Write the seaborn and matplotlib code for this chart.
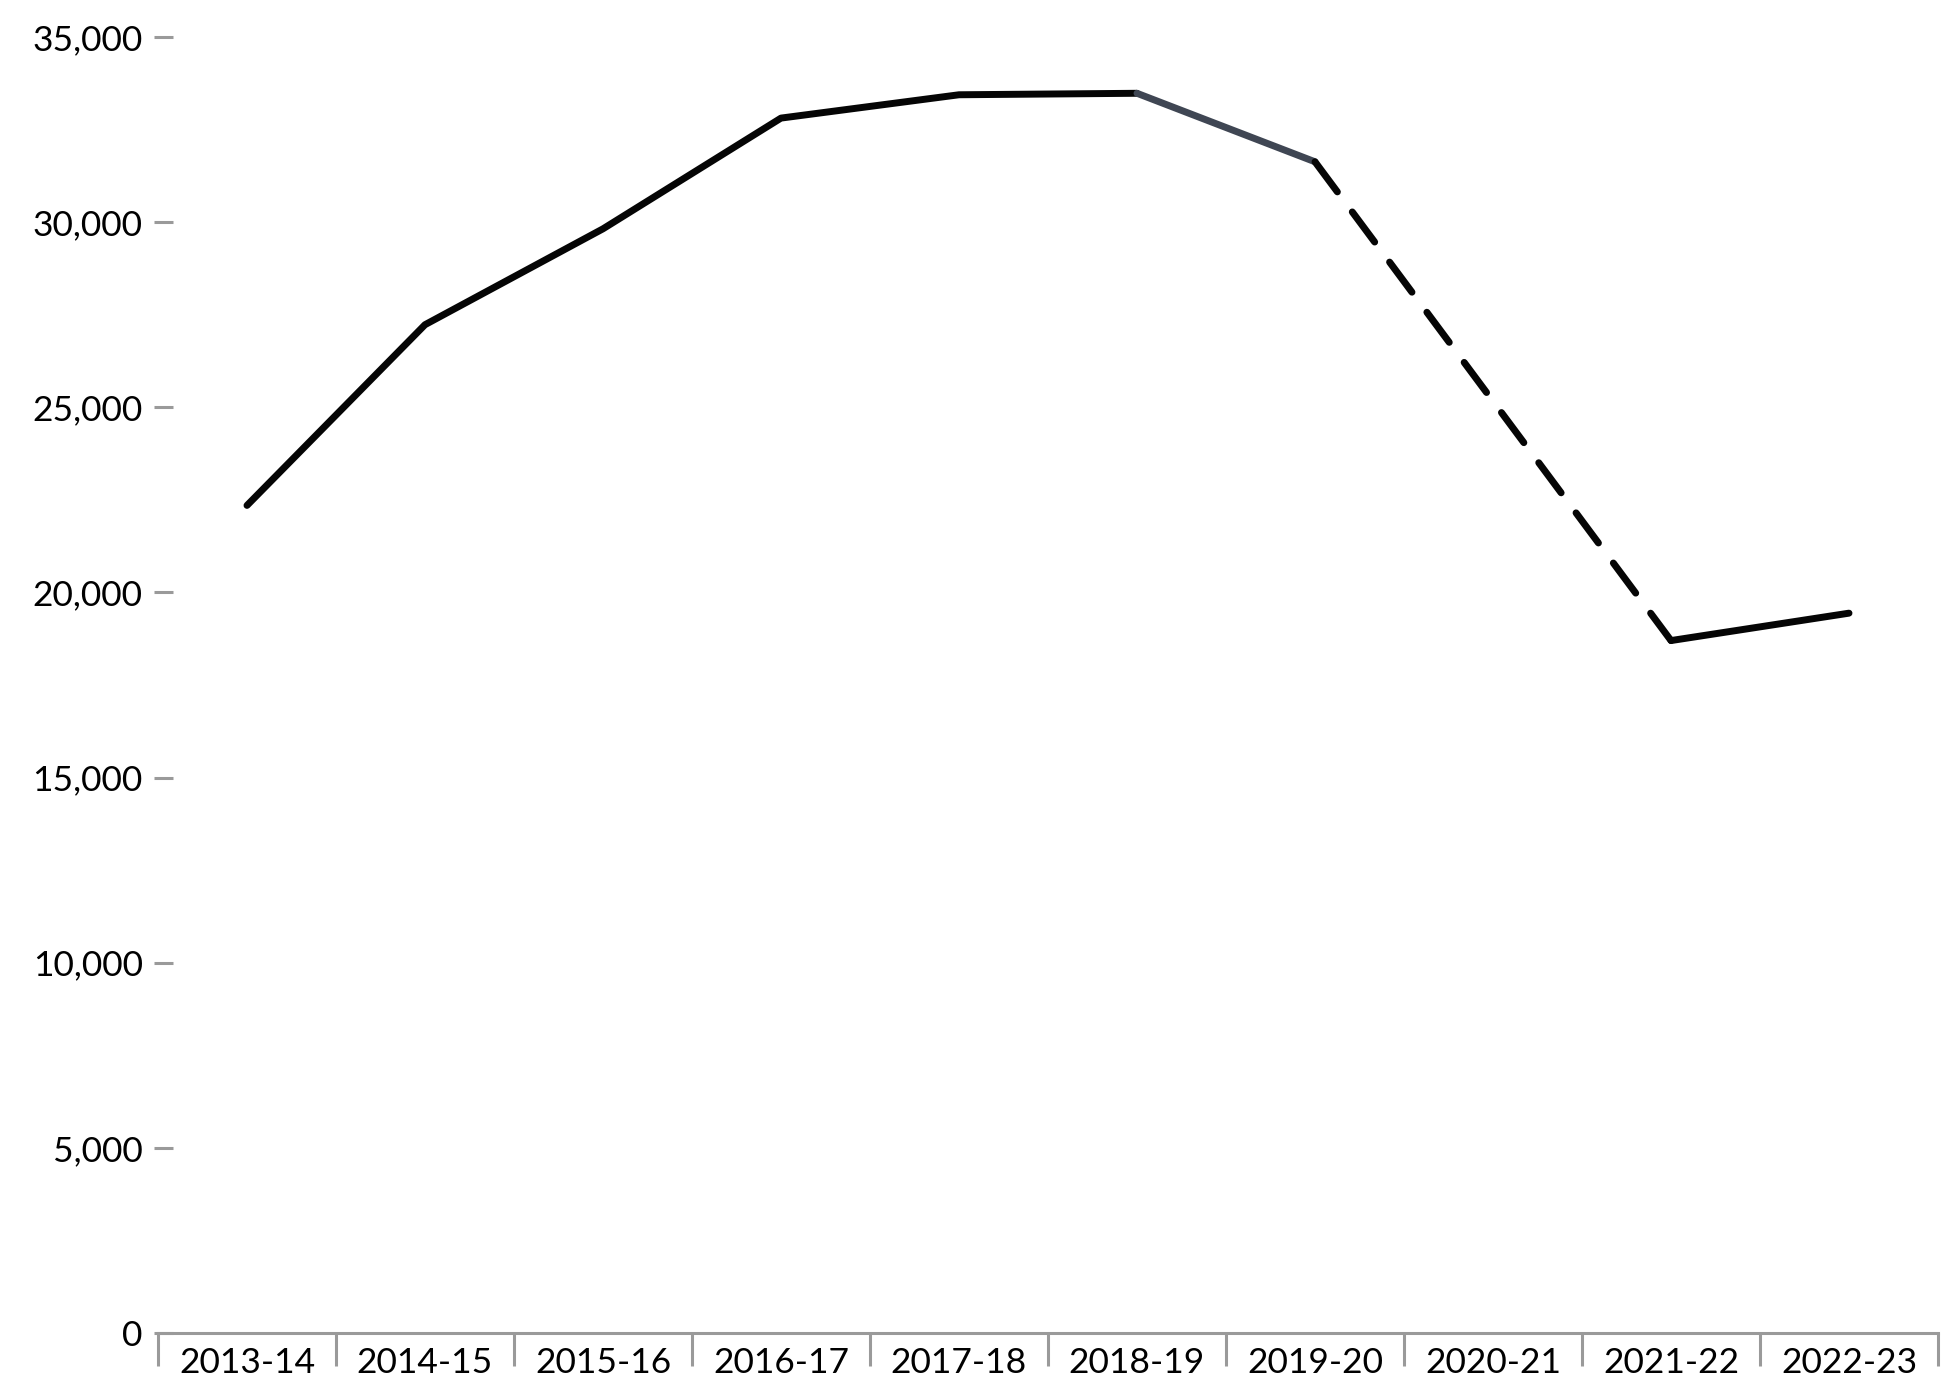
import numpy as np
import pandas as pd
import seaborn as sns
import matplotlib.pyplot as plt
from matplotlib.ticker import FuncFormatter, FixedLocator

# dane
lata = ["2013-14", "2014-15", "2015-16", "2016-17", "2017-18",
        "2018-19", "2019-20", "2020-21", "2021-22", "2022-23"]
wartosci = [22350, 27230, 29820, 32810, 33440, 33480, 31630, np.nan, 18700, 19440]

tabelka = pd.DataFrame({"idx": range(len(lata)), "rok": lata, "wartosc": wartosci})

sns.set_theme(style="white")
plt.rcParams["font.family"] = ["Lato", "DejaVu Sans"]

fig = plt.figure(figsize=(19.5, 13.79), dpi=100)
ax = fig.add_axes([158 / 1950, 46 / 1379, 1780 / 1950, 1296 / 1379])

szary = "#9a9a9a"
lw = 5

# odcinki linii: (od, do, kolor, kreski)
odcinki = [
    (0, 5, "#050505", None),
    (5, 6, "#3f4653", None),
    (6, 8, "#050505", (5.4, 3.6)),
    (8, 9, "#050505", None),
]
for od, do, kolor, kreski in odcinki:
    kawalek = tabelka.iloc[[od, do]] if kreski else tabelka.iloc[od:do + 1]
    sns.lineplot(data=kawalek, x="idx", y="wartosc", color=kolor,
                 linewidth=lw, ax=ax, sort=False)
    l = ax.lines[-1]
    l.set_solid_capstyle("round")
    l.set_dash_capstyle("round")
    l.set_solid_joinstyle("round")
    if kreski:
        l.set_dashes(kreski)

ax.set_xlim(-0.5, len(lata) - 0.5)
ax.set_ylim(0, 35000)
ax.set_xlabel("")
ax.set_ylabel("")

ax.set_xticks(range(len(lata)))
ax.set_xticklabels(lata)
ax.xaxis.set_minor_locator(FixedLocator(np.arange(-0.5, len(lata), 1.0)))
ax.tick_params(axis="x", which="major", length=0, pad=10, labelsize=25.5, colors="black")
ax.tick_params(axis="x", which="minor", length=24, width=2.2, color=szary, direction="out", bottom=True)

ax.set_yticks(range(0, 35001, 5000))
ax.yaxis.set_major_formatter(FuncFormatter(lambda v, p: f"{int(v):,}"))
ax.tick_params(axis="y", which="major", length=13.7, width=2.2, color=szary,
               direction="out", left=True, pad=8, labelsize=25.5, labelcolor="black")

for s in ["top", "right"]:
    ax.spines[s].set_visible(False)
ax.spines["left"].set_position(("outward", -10.8))
ax.spines["left"].set_visible(False)
ax.spines["bottom"].set_color(szary)
ax.spines["bottom"].set_linewidth(2.2)
ax.grid(False)

fig.savefig("out.png", dpi=100)
